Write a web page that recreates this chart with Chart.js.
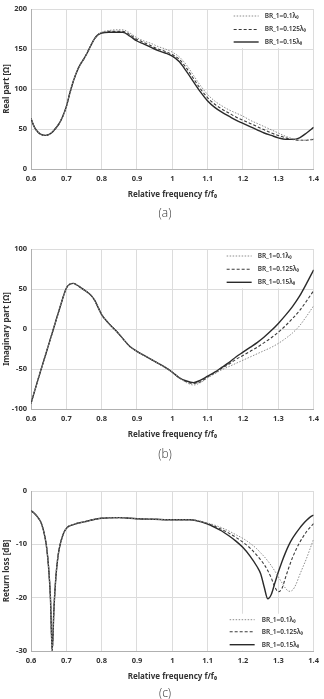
<!doctype html>
<html>

<head>
	<title>Input impedance and return loss</title>
	<script src="https://cdn.jsdelivr.net/npm/chart.js@4.4.0/dist/chart.umd.min.js"></script>
	<style>
	body {
		margin: 0;
		background: #fff;
		width: 324px;
		height: 699px;
		overflow: hidden;
		position: relative;
	}
	.panel {
		position: absolute;
		left: 0;
		width: 324px;
		height: 205px;
	}
	.cap {
		position: absolute;
		left: 0;
		width: 330px;
		text-align: center;
		font: 300 12px 'Open Sans', sans-serif;
		color: #333;
	}
	</style>
</head>

<body>
	<div class="panel" style="top:0"><canvas id="chartA" width="324" height="205"></canvas></div>
	<div class="cap" style="top:204px">(a)</div>
	<div class="panel" style="top:240px"><canvas id="chartB" width="324" height="205"></canvas></div>
	<div class="cap" style="top:445px">(b)</div>
	<div class="panel" style="top:482px"><canvas id="chartC" width="324" height="205"></canvas></div>
	<div class="cap" style="top:684px">(c)</div>
	<script>
		const seriesLabels = ['BR_1=0.1λ₀', 'BR_1=0.125λ₀', 'BR_1=0.15λ₀'];
		const xTicks = [0.6, 0.7, 0.8, 0.9, 1, 1.1, 1.2, 1.3, 1.4];

		// (a) real part
		const freqA = [0.6, 0.61, 0.62, 0.63, 0.64, 0.65, 0.66, 0.67, 0.68, 0.69, 0.7, 0.71, 0.72, 0.73, 0.74, 0.75, 0.76, 0.77, 0.78, 0.79, 0.8,
			0.82, 0.84, 0.86, 0.88, 0.9, 0.92, 0.94, 0.96, 0.98, 1.0, 1.02, 1.04, 1.06, 1.08, 1.1, 1.12, 1.14, 1.16, 1.18, 1.2,
			1.22, 1.24, 1.26, 1.28, 1.3, 1.32, 1.34, 1.36, 1.38, 1.4];
		const realBR01 = [63, 52, 46, 43, 42, 43, 46, 51, 57, 66, 78, 95, 110, 122, 131, 138, 146, 155, 163, 168, 171,
			173, 174, 174, 170, 164, 160, 157, 153, 150, 146, 140, 130, 117, 104, 93, 85, 79, 74, 70, 66,
			61, 57, 53, 49, 45, 41, 38, 36, 36, 38];
		const realBR0125 = [63, 52, 46, 43, 42, 43, 46, 51, 57, 66, 78, 95, 110, 122, 131, 138, 146, 155, 163, 168, 170,
			172, 172, 172, 168, 162, 158, 154, 150, 147, 143, 137, 126, 113, 100, 89, 81, 75, 70, 65, 61,
			57, 53, 49, 45, 42, 39, 37, 36, 36, 37];
		const realBR015 = [63, 52, 46, 43, 42, 43, 46, 51, 57, 66, 78, 95, 110, 122, 131, 138, 146, 155, 163, 168, 170,
			171, 171, 171, 166, 160, 156, 152, 148, 145, 141, 134, 122, 109, 96, 85, 77, 71, 66, 61, 57,
			53, 49, 45, 42, 39, 37, 37, 39, 45, 52];

		// (b) imaginary part
		const freqB = [0.6, 0.62, 0.64, 0.66, 0.68, 0.7, 0.71, 0.72, 0.73, 0.74, 0.75, 0.76, 0.77, 0.78, 0.79,
			0.8, 0.82, 0.84, 0.86, 0.88, 0.9, 0.92, 0.94, 0.96, 0.98, 1.0, 1.02, 1.04, 1.06, 1.08, 1.1,
			1.12, 1.14, 1.16, 1.18, 1.2, 1.22, 1.24, 1.26, 1.28, 1.3, 1.32, 1.34, 1.36, 1.38, 1.4];
		const imagBR01 = [-93, -63, -34, -5, 24, 51, 56, 57, 55, 52, 49, 46, 42, 36, 27,
			18, 7, -2, -12, -22, -28, -33, -38, -43, -48, -54, -61, -67, -70, -67, -61,
			-56, -51, -47, -43, -39, -35, -31, -27, -23, -18, -12, -5, 4, 16, 29];
		const imagBR0125 = [-93, -63, -34, -5, 24, 51, 56, 57, 55, 52, 49, 46, 42, 36, 27,
			18, 7, -2, -12, -22, -28, -33, -38, -43, -48, -54, -61, -66, -68, -66, -60,
			-55, -49, -44, -38, -33, -28, -23, -17, -11, -4, 4, 13, 23, 35, 48];
		const imagBR015 = [-93, -63, -34, -5, 24, 51, 56, 57, 55, 52, 49, 46, 42, 36, 27,
			18, 7, -2, -12, -22, -28, -33, -38, -43, -48, -54, -61, -65, -67, -64, -59,
			-54, -48, -42, -35, -29, -23, -17, -10, -2, 7, 17, 28, 41, 57, 74];

		// (c) return loss
		const freqC = [0.6, 0.61, 0.62, 0.63, 0.64, 0.645, 0.65, 0.655, 0.66, 0.665, 0.67, 0.675, 0.68, 0.69, 0.7, 0.72, 0.75,
			0.8, 0.85, 0.9, 0.95, 1.0, 1.05, 1.1, 1.12, 1.14, 1.16, 1.18, 1.2, 1.22, 1.24,
			1.25, 1.26, 1.27, 1.28, 1.29, 1.3, 1.31, 1.32, 1.33, 1.34, 1.35, 1.36, 1.37, 1.38, 1.39, 1.4];
		const rlBR01 = [-3.7, -4.2, -5.0, -6.2, -8.8, -11, -14.5, -20, -30, -22, -16.5, -13, -10.8, -8.3, -7.0, -6.3, -5.8,
			-5.1, -5.0, -5.2, -5.3, -5.4, -5.4, -6.0, -6.4, -6.9, -7.5, -8.2, -8.9, -9.8, -10.9,
			-11.6, -12.3, -13.1, -14.0, -15.0, -16.1, -17.2, -18.2, -18.8, -18.6, -17.5, -15.8, -14.2, -12.6, -10.8, -9.0];
		const rlBR0125 = [-3.7, -4.2, -5.0, -6.2, -8.8, -11, -14.5, -20, -30, -22, -16.5, -13, -10.8, -8.3, -7.0, -6.3, -5.8,
			-5.1, -5.0, -5.2, -5.3, -5.4, -5.4, -6.1, -6.6, -7.2, -7.9, -8.7, -9.6, -10.7, -12.1,
			-12.9, -13.8, -14.9, -16.3, -18.0, -18.9, -18.3, -16.3, -14.3, -12.5, -11.0, -9.7, -8.6, -7.6, -6.8, -6.1];
		const rlBR015 = [-3.7, -4.2, -5.0, -6.2, -8.8, -11, -14.5, -20, -30, -22, -16.5, -13, -10.8, -8.3, -7.0, -6.3, -5.8,
			-5.1, -5.0, -5.2, -5.3, -5.4, -5.4, -6.2, -6.8, -7.5, -8.4, -9.4, -10.6, -12.2, -14.2,
			-15.5, -18.0, -20.2, -19.4, -17.3, -15.2, -13.3, -11.6, -10.1, -8.9, -7.9, -7.0, -6.2, -5.5, -4.9, -4.5];

		const lineStyles = [
			{ color: '#8c8c8c', width: 1, dash: [1.5, 1.5] },
			{ color: '#3a3a3a', width: 1.1, dash: [3, 2] },
			{ color: '#2a2a2a', width: 1.4, dash: [] }
		];

		const tickFont = { family: "'Noto Sans', sans-serif", size: 7.5, weight: 'bold' };
		const titleFont = { family: "'Noto Sans', sans-serif", size: 8, weight: 'bold' };
		const textColor = '#333';

		// legend drawn inside the plot, on a white box
		const boxLegend = {
			id: 'boxLegend',
			beforeDatasetsDraw(chart, args, opts) {
				const ctx = chart.ctx;
				const area = chart.chartArea;
				const rows = opts.rows.map(r => opts.anchor === 'top' ? area.top + r : area.bottom + r);
				ctx.save();
				ctx.fillStyle = '#fff';
				ctx.fillRect(area.right + opts.lineX - 5, rows[0] - 6, -opts.lineX + 4, rows[2] - rows[0] + 12);
				ctx.font = "600 6.5px 'Noto Sans', sans-serif";
				ctx.textBaseline = 'middle';
				lineStyles.forEach((s, i) => {
					ctx.strokeStyle = s.color;
					ctx.lineWidth = s.width;
					ctx.setLineDash(s.dash);
					ctx.beginPath();
					ctx.moveTo(area.right + opts.lineX, rows[i]);
					ctx.lineTo(area.right + opts.lineX + 25, rows[i]);
					ctx.stroke();
					ctx.fillStyle = textColor;
					ctx.fillText(seriesLabels[i], area.right + opts.textX, rows[i]);
				});
				ctx.restore();
			}
		};

		function makeChart(id, freq, series, yTitle, yMin, yMax, yStep, rightPad, legend) {
			const ctx = document.getElementById(id).getContext('2d');
			return new Chart(ctx, {
				type: 'line',
				data: {
					datasets: series.map((vals, i) => ({
						label: seriesLabels[i],
						data: freq.map((f, k) => ({ x: f, y: vals[k] })),
						borderColor: lineStyles[i].color,
						borderWidth: lineStyles[i].width,
						borderDash: lineStyles[i].dash,
						pointRadius: 0,
						cubicInterpolationMode: 'monotone',
						fill: false
					}))
				},
				options: {
					responsive: false,
					animation: false,
					devicePixelRatio: 1,
					layout: { padding: { top: 9, right: rightPad, left: 0, bottom: 0 } },
					plugins: {
						legend: { display: false },
						tooltip: { enabled: false },
						boxLegend: legend
					},
					scales: {
						x: {
							type: 'linear',
							min: 0.6,
							max: 1.4,
							afterBuildTicks(scale) {
								scale.ticks = xTicks.map(v => ({ value: v }));
							},
							ticks: {
								padding: 5,
								font: tickFont,
								color: textColor,
								maxRotation: 0,
								callback: v => String(Number(v.toFixed(1)))
							},
							grid: { color: '#dcdcdc', drawTicks: false },
							border: { color: '#b0b0b0' },
							title: {
								display: true,
								text: 'Relative frequency f/f₀',
								font: titleFont,
								color: textColor,
								padding: { top: 0, bottom: 5 }
							},
							afterFit(scale) { scale.height = 36; }
						},
						y: {
							min: yMin,
							max: yMax,
							ticks: { stepSize: yStep, padding: 4, font: tickFont, color: textColor },
							grid: { color: '#dcdcdc', drawTicks: false },
							border: { color: '#b0b0b0' },
							title: {
								display: true,
								text: yTitle,
								font: titleFont,
								color: textColor,
								padding: { top: 2, bottom: 0 }
							},
							afterFit(scale) { scale.width = 31; }
						}
					}
				},
				plugins: [boxLegend]
			});
		}

		makeChart('chartA', freqA, [realBR01, realBR0125, realBR015], 'Real part [Ω]', 0, 200, 50, 7,
			{ anchor: 'top', lineX: -80, textX: -49, rows: [7, 20.5, 33] });
		makeChart('chartB', freqB, [imagBR01, imagBR0125, imagBR015], 'Imaginary part [Ω]', -100, 100, 50, 9,
			{ anchor: 'top', lineX: -87, textX: -56, rows: [7, 20.3, 33.3] });
		makeChart('chartC', freqC, [rlBR01, rlBR0125, rlBR015], 'Return loss [dB]', -30, 0, 10, 7,
			{ anchor: 'bottom', lineX: -84, textX: -52, rows: [-31.3, -19.3, -6.3] });
	</script>
</body>

</html>
